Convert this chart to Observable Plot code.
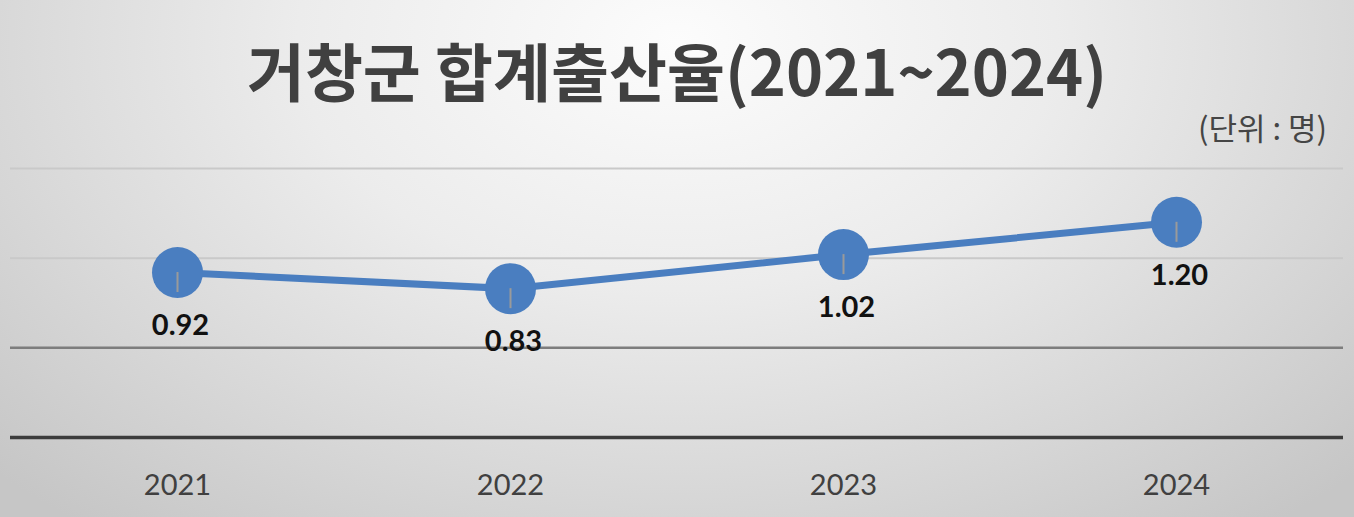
<!DOCTYPE html>
<html>
<head>
<meta charset="utf-8">
<script src="https://cdn.jsdelivr.net/npm/d3@7"></script>
<script src="https://cdn.jsdelivr.net/npm/@observablehq/plot@0.6"></script>
<style>
  html, body { margin: 0; padding: 0; }
  body { width: 1354px; height: 517px; overflow: hidden;
    background: radial-gradient(ellipse 70% 120% at 50% 8%, #fcfcfc 0%, #ececec 40%, #d6d6d6 75%, #c6c6c6 100%); }
  #wrap { position: relative; width: 1354px; height: 517px; }
  #title { position: absolute; left: 0; top: 26px; width: 1354px; text-align: center;
    font-family: "Noto Sans CJK KR", sans-serif; font-weight: 700; font-size: 63px; line-height: 86px; color: #404040; }
  #unit { position: absolute; right: 27px; top: 106px;
    font-family: "Noto Sans CJK KR", sans-serif; font-weight: 400; font-size: 31px; line-height: 42px; color: #454545; }
  #chart { position: absolute; left: 0; top: 150px; }
</style>
</head>
<body>
<div id="wrap">
  <div id="title">거창군 합계출산율(2021~2024)</div>
  <div id="unit">(단위 : 명)</div>
  <div id="chart"></div>
</div>
<script>
const years = ["2021", "2022", "2023", "2024"];
const rates = [0.92, 0.83, 1.02, 1.20];
const rateLabels = ["0.92", "0.83", "1.02", "1.20"];
const lightGrid = [1.0, 1.5];
const midGrid = [0.5];
const baseLine = [0];

const data = years.map((y, i) => ({year: y, rate: rates[i], label: rateLabels[i]}));
const blue = "#4a7ec0";

const chart = Plot.plot({
  width: 1354,
  height: 367,
  marginLeft: 10,
  marginRight: 11,
  marginTop: 18,
  marginBottom: 80,
  style: {background: "transparent", overflow: "visible"},
  x: {type: "point", domain: years, padding: 0.5, label: null},
  y: {domain: [0, 1.5], axis: null},
  marks: [
    Plot.ruleY(lightGrid, {stroke: "#c9c9c9", strokeWidth: 2}),
    Plot.ruleY(midGrid, {stroke: "#7d7d7d", strokeWidth: 2.5}),
    Plot.ruleY(baseLine, {stroke: "#3c3c3c", strokeWidth: 3.5}),
    Plot.axisX({tickSize: 0, tickPadding: 37, fontSize: 29, fontFamily: "Lato, sans-serif", fill: "#404040", label: null}),
    Plot.line(data, {x: "year", y: "rate", stroke: blue, strokeWidth: 7}),
    Plot.dot(data, {x: "year", y: "rate", r: 25.5, fill: blue, stroke: "none"}),
    Plot.ruleX(data, {x: "year", y1: "rate", y2: "rate", insetBottom: -20, stroke: "#9a9a9a", strokeWidth: 2}),
    Plot.text(data, {x: "year", y: "rate", text: "label", dy: 53, dx: 3, fontSize: 29, fontWeight: 700, fontFamily: "Lato, sans-serif", fill: "#111"})
  ]
});
document.getElementById("chart").appendChild(chart);
</script>
</body>
</html>
